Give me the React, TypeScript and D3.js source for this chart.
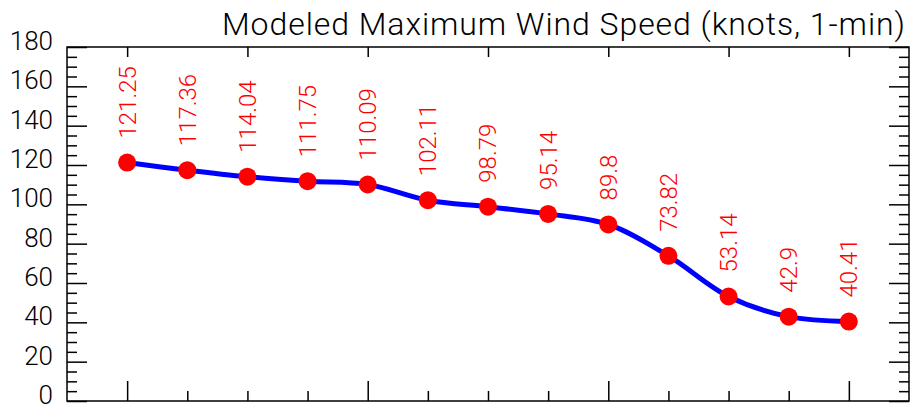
import React, { useRef, useEffect } from 'react';
import * as d3 from 'd3';

// Modeled max wind speed, one value per forecast step
const windSpeeds = [121.25, 117.36, 114.04, 111.75, 110.09, 102.11, 98.79, 95.14, 89.8, 73.82, 53.14, 42.9, 40.41];
const speedLabels = ['121.25', '117.36', '114.04', '111.75', '110.09', '102.11', '98.79', '95.14', '89.8', '73.82', '53.14', '42.9', '40.41'];
const yMajorTicks = [0, 20, 40, 60, 80, 100, 120, 140, 160, 180];
const chartTitle = 'Modeled Maximum Wind Speed (knots, 1-min)';

const FONT = 'Roboto, "Liberation Sans", sans-serif';

const App: React.FC = () => {
    const svgRef = useRef<SVGSVGElement>(null);
    const width = 911;
    const height = 406;

    useEffect(() => {
        if (!svgRef.current) return;
        const svg = d3.select(svgRef.current);
        svg.selectAll('*').remove();

        const margin = { top: 47, right: 2, bottom: 5, left: 67 };
        const innerWidth = width - margin.left - margin.right;
        const innerHeight = height - margin.top - margin.bottom;

        const g = svg.append('g').attr('transform', `translate(${margin.left},${margin.top})`);

        const n = windSpeeds.length;
        const x = d3.scaleLinear().domain([-1, n]).range([0, innerWidth]);
        const y = d3.scaleLinear().domain([0, 180]).range([innerHeight, 0]);

        const idx = d3.range(n);
        const minorY = d3.range(0, 181, 5).filter(v => v % 20 !== 0);

        const styleAxis = (sel: d3.Selection<SVGGElement, unknown, null, undefined>) => {
            sel.select('.domain').remove();
            sel.selectAll('line').attr('stroke', '#000').attr('stroke-width', 1.5);
        };

        // Left: labels
        const leftLabels = g.append('g')
            .call(d3.axisLeft(y).tickValues(yMajorTicks).tickSize(0).tickPadding(14));
        leftLabels.select('.domain').remove();
        leftLabels.selectAll('text')
            .attr('font-family', FONT)
            .attr('font-weight', 300)
            .attr('font-size', '26px')
            .attr('fill', '#000')
            .attr('dy', '0.1em');

        // Left ticks (pointing inward)
        g.append('g').call(d3.axisRight(y).tickValues(yMajorTicks).tickSize(20).tickFormat(() => '')).call(styleAxis);
        g.append('g').call(d3.axisRight(y).tickValues(minorY).tickSize(10).tickFormat(() => '')).call(styleAxis);

        // Right ticks
        g.append('g').attr('transform', `translate(${innerWidth},0)`)
            .call(d3.axisLeft(y).tickValues(yMajorTicks).tickSize(20).tickFormat(() => '')).call(styleAxis);
        g.append('g').attr('transform', `translate(${innerWidth},0)`)
            .call(d3.axisLeft(y).tickValues(minorY).tickSize(10).tickFormat(() => '')).call(styleAxis);

        // Bottom ticks
        g.append('g').attr('transform', `translate(0,${innerHeight})`)
            .call(d3.axisTop(x).tickValues(idx.filter(i => i % 4 === 0)).tickSize(20).tickFormat(() => '')).call(styleAxis);
        g.append('g').attr('transform', `translate(0,${innerHeight})`)
            .call(d3.axisTop(x).tickValues(idx.filter(i => i % 4 !== 0)).tickSize(10).tickFormat(() => '')).call(styleAxis);

        // Top ticks
        g.append('g')
            .call(d3.axisBottom(x).tickValues(idx.filter(i => i % 2 === 0)).tickSize(10).tickFormat(() => '')).call(styleAxis);

        // Frame
        g.append('rect')
            .attr('x', 0).attr('y', 0)
            .attr('width', innerWidth).attr('height', innerHeight)
            .attr('fill', 'none')
            .attr('stroke', '#000')
            .attr('stroke-width', 1.5);

        // Line
        const line = d3.line<number>()
            .x((_, i) => x(i))
            .y(d => y(d))
            .curve(d3.curveCatmullRom.alpha(0.5));

        g.append('path')
            .datum(windSpeeds)
            .attr('fill', 'none')
            .attr('stroke', '#0000ff')
            .attr('stroke-width', 5)
            .attr('d', line);

        // Points
        g.selectAll('circle.pt')
            .data(windSpeeds)
            .enter()
            .append('circle')
            .attr('class', 'pt')
            .attr('cx', (_, i) => x(i))
            .attr('cy', d => y(d))
            .attr('r', 9)
            .attr('fill', '#ff0000');

        // Value labels (rotated)
        g.selectAll('text.val')
            .data(windSpeeds)
            .enter()
            .append('text')
            .attr('class', 'val')
            .attr('transform', (d, i) => `translate(${x(i)},${y(d) - 24}) rotate(-90)`)
            .attr('dy', '0.35em')
            .attr('text-anchor', 'start')
            .attr('font-family', FONT)
            .attr('font-weight', 300)
            .attr('font-size', '24px')
            .attr('fill', '#ff0000')
            .text((_, i) => speedLabels[i]);

        // Title
        svg.append('text')
            .attr('x', 905)
            .attr('y', 35)
            .attr('text-anchor', 'end')
            .attr('font-family', FONT)
            .attr('font-weight', 300)
            .attr('font-size', '32px')
            .attr('textLength', 683)
            .attr('lengthAdjust', 'spacing')
            .attr('fill', '#000')
            .text(chartTitle);
    }, []);

    return (
        <svg
            ref={svgRef}
            width={width}
            height={height}
            style={{ position: 'absolute', left: 0, top: 0, background: '#fff' }}
        />
    );
};

export default App;
